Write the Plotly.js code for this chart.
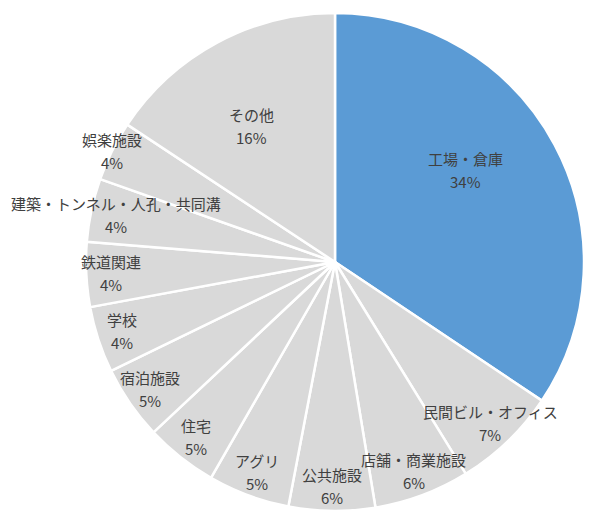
<!DOCTYPE html>
<html>
<head>
<meta charset="utf-8">
<script src="https://cdn.plot.ly/plotly-3.0.1.min.js"></script>
<style>
  html, body { margin: 0; padding: 0; background: #fff; }
  #chart { width: 600px; height: 523px; }
</style>
</head>
<body>
<div id="chart"></div>
<script>
const categories = ['工場・倉庫', '民間ビル・オフィス', '店舗・商業施設', '公共施設', 'アグリ', '住宅', '宿泊施設', '学校', '鉄道関連', '建築・トンネル・人孔・共同溝', '娯楽施設', 'その他'];
const shares = [34.4, 6.8, 6.2, 5.6, 5.3, 4.7, 4.8, 4.3, 4.2, 4.1, 3.9, 15.7];
const highlight = '工場・倉庫';

(function(){
  const W = 600, H = 523;
  const cx = 335, cy = 262, R = 249;
  const font = '"Noto Sans CJK JP", "Noto Sans", sans-serif';
  const colors = categories.map(c => c === highlight ? '#5B9BD5' : '#D9D9D9');

  // label placement along each slice's middle angle
  const total = shares.reduce((a, b) => a + b, 0);
  const annotations = [];
  let acc = 0;
  shares.forEach((v, i) => {
    let mid = (acc + v / 2) / total * 2 * Math.PI;
    acc += v;
    let r = v >= 10 ? 0.64 : 0.9;
    if (i === 0) mid -= 0.12;
    if (i === categories.length - 1) mid -= 0.06;
    if (i === categories.length - 2) r = 1.0;
    const px = cx + R * r * Math.sin(mid);
    const py = cy - R * r * Math.cos(mid);
    const base = { xref: 'paper', yref: 'paper', x: px / W, y: (H - py) / H, showarrow: false,
      xanchor: 'center', yanchor: 'middle', font: { family: font, size: 15, color: '#404040' } };
    annotations.push(Object.assign({}, base, { text: categories[i], yshift: 12 }));
    annotations.push(Object.assign({}, base, { text: Math.round(v) + '%', yshift: -11 }));
  });

  const trace = {
    type: 'pie', labels: categories, values: shares, sort: false,
    direction: 'clockwise', rotation: 0, textinfo: 'none', hoverinfo: 'label+percent',
    marker: { colors: colors, line: { color: '#ffffff', width: 2.5 } },
    domain: { x: [(cx - R) / W, (cx + R) / W], y: [(H - cy - R) / H, (H - cy + R) / H] }
  };

  Plotly.newPlot('chart', [trace], {
    width: W, height: H, margin: { l: 0, r: 0, t: 0, b: 0 },
    showlegend: false, paper_bgcolor: '#ffffff', annotations: annotations
  }, { displayModeBar: false, staticPlot: true });
})();
</script>
</body>
</html>
